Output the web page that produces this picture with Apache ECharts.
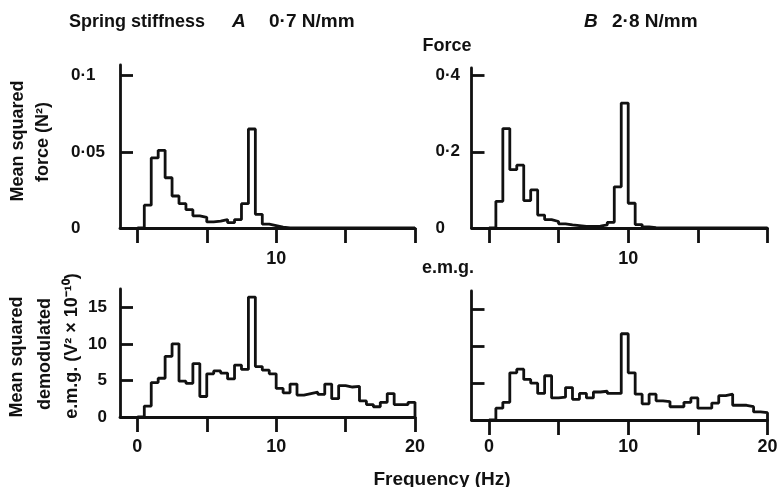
<!DOCTYPE html>
<html>
<head>
<meta charset="utf-8">
<script src="https://cdn.jsdelivr.net/npm/echarts@6/dist/echarts.min.js"></script>
<style>
  html, body { margin: 0; padding: 0; background: #fff; }
  #chart { width: 779px; height: 487px; }
</style>
</head>
<body>
<div id="chart"></div>
<script>
// bin edges (Hz), 0.5 Hz bins
const freqEdges = [0, 0.5, 1, 1.5, 2, 2.5, 3, 3.5, 4, 4.5, 5, 5.5, 6, 6.5, 7, 7.5, 8, 8.5, 9, 9.5,
  10, 10.5, 11, 11.5, 12, 12.5, 13, 13.5, 14, 14.5, 15, 15.5, 16, 16.5, 17, 17.5, 18, 18.5, 19, 19.5, 20];

// mean squared force (N^2), spring A 0.7 N/mm
const forceA = [0, 0.015, 0.046, 0.051, 0.033, 0.021, 0.016, 0.012, 0.008, 0.007,
  0.004, 0.0045, 0.0055, 0.0035, 0.0055, 0.016, 0.065, 0.009, 0.0025, 0.0015,
  0.0005, 0, 0, 0, 0, 0, 0, 0, 0, 0,
  0, 0, 0, 0, 0, 0, 0, 0, 0, 0];

// mean squared force (N^2), spring B 2.8 N/mm
const forceB = [0, 0.070, 0.261, 0.153, 0.165, 0.072, 0.100, 0.034, 0.022, 0.017,
  0.011, 0.008, 0.006, 0.004, 0.004, 0.005, 0.008, 0.015, 0.108, 0.328,
  0.065, 0.009, 0.003, 0.001, 0, 0, 0, 0, 0, 0,
  0, 0, 0, 0, 0, 0, 0, 0, 0, 0];

// demodulated e.m.g. (V^2 x 10^-10)
const emgA = [0, 1.5, 4.7, 5.3, 8.3, 10.0, 4.9, 4.6, 7.3, 2.8,
  5.9, 6.3, 6.0, 5.2, 7.1, 6.5, 16.4, 6.9, 6.4, 5.9,
  3.9, 3.3, 4.5, 3.0, 3.2, 3.4, 3.1, 4.5, 2.5, 4.3,
  4.1, 4.2, 2.2, 1.7, 1.4, 2.0, 3.2, 1.7, 1.7, 2.0];

const emgB = [0, 1.6, 2.4, 6.4, 6.9, 5.5, 5.0, 3.6, 6.0, 3.0,
  3.1, 4.4, 2.8, 3.6, 3.0, 3.8, 3.9, 3.6, 3.6, 11.7,
  6.4, 3.5, 2.2, 3.5, 2.6, 2.5, 1.8, 1.8, 2.4, 3.0,
  1.6, 1.6, 2.3, 3.3, 3.5, 2.0, 2.0, 1.8, 1.1, 1.0];

const xTicks = [0, 5, 10, 15, 20];
const xLabelsTop = [10];
const xLabelsBottom = [0, 10, 20];
const yTicksForceA = [0, 0.05, 0.1];
const yTicksForceB = [0, 0.2, 0.4];
const yTicksEmg = [0, 5, 10, 15];

const FONT = "'Liberation Sans', Arial, sans-serif";
const INK = "#111";
const LW = 2.8;

function stepData(values) {
  const pts = values.map((v, i) => [freqEdges[i], v]);
  const last = freqEdges[freqEdges.length - 1];
  pts.push([last, values[values.length - 1]]);
  pts.push([last, 0]);
  return pts;
}

function dot(v) {
  return String(v).replace(".", "·");
}

function xAxis(gridIndex, labels, margin) {
  return {
    type: "value", gridIndex, min: -1.25, max: 20,
    axisLine: { onZero: false, lineStyle: { color: INK, width: LW } },
    axisTick: { show: true, length: 15, lineStyle: { color: INK, width: LW }, customValues: xTicks },
    axisLabel: { customValues: labels, margin, color: INK, fontSize: 18, fontWeight: "bold", fontFamily: FONT },
    splitLine: { show: false },
  };
}

function yAxis(gridIndex, max, ticks, labelOpt) {
  return {
    type: "value", gridIndex, min: 0, max,
    axisLine: { show: true, onZero: false, lineStyle: { color: INK, width: LW } },
    axisTick: { show: true, inside: true, length: 13, lineStyle: { color: INK, width: LW }, customValues: ticks },
    axisLabel: Object.assign({ customValues: ticks, color: INK, fontSize: 17, fontWeight: "bold", fontFamily: FONT,
      formatter: dot }, labelOpt),
    splitLine: { show: false },
  };
}

function series(idx, values) {
  return {
    type: "line", xAxisIndex: idx, yAxisIndex: idx, step: "end", symbol: "none",
    lineStyle: { color: INK, width: LW }, data: stepData(values), animation: false,
  };
}

function txt(x, y, text, extra) {
  const size = (extra && extra.size) || 18;
  return {
    type: "text", x, y, rotation: (extra && extra.rotation) || 0,
    style: Object.assign({ text, fill: INK, font: "bold " + size + "px " + FONT, align: "left", verticalAlign: "middle" },
      extra && extra.style),
  };
}

const vert = { rotation: Math.PI / 2, style: { align: "center" } };

const chart = echarts.init(document.getElementById("chart"));
chart.setOption({
  backgroundColor: "#fff",
  animation: false,
  grid: [
    { left: 120, top: 65, width: 295, height: 163, outerBoundsMode: "none" },
    { left: 471.5, top: 68, width: 296, height: 160, outerBoundsMode: "none" },
    { left: 120, top: 289, width: 295, height: 128, outerBoundsMode: "none" },
    { left: 471.5, top: 291, width: 296, height: 129, outerBoundsMode: "none" },
  ],
  xAxis: [
    xAxis(0, xLabelsTop, 22),
    xAxis(1, xLabelsTop, 22),
    xAxis(2, xLabelsBottom, 21),
    xAxis(3, xLabelsBottom, 18),
  ],
  yAxis: [
    yAxis(0, 0.107, yTicksForceA, { align: "left", margin: 49 }),
    yAxis(1, 0.42, yTicksForceB, { align: "left", margin: 36 }),
    yAxis(2, 17.5, yTicksEmg, { margin: 13 }),
    yAxis(3, 17.5, yTicksEmg, { show: false }),
  ],
  series: [
    series(0, forceA),
    series(1, forceB),
    series(2, emgA),
    series(3, emgB),
  ],
  graphic: [
    txt(69, 22, "Spring stiffness"),
    txt(232, 22, "A", { style: { font: "italic bold 19px " + FONT } }),
    txt(269, 22, "0·7 N/mm", { size: 19 }),
    txt(584, 22, "B", { style: { font: "italic bold 19px " + FONT } }),
    txt(612, 22, "2·8 N/mm", { size: 19 }),
    txt(447, 46, "Force", { style: { align: "center" } }),
    txt(448, 268, "e.m.g.", { style: { align: "center" } }),
    txt(442, 480, "Frequency (Hz)", { size: 19, style: { align: "center" } }),
    txt(18, 141, "Mean squared", vert),
    txt(43, 142, "force (N²)", vert),
    txt(17, 357, "Mean squared", vert),
    txt(45, 354, "demodulated", vert),
    txt(72, 346, "e.m.g. (V² × 10⁻¹⁰)", vert),
  ],
});
</script>
</body>
</html>
